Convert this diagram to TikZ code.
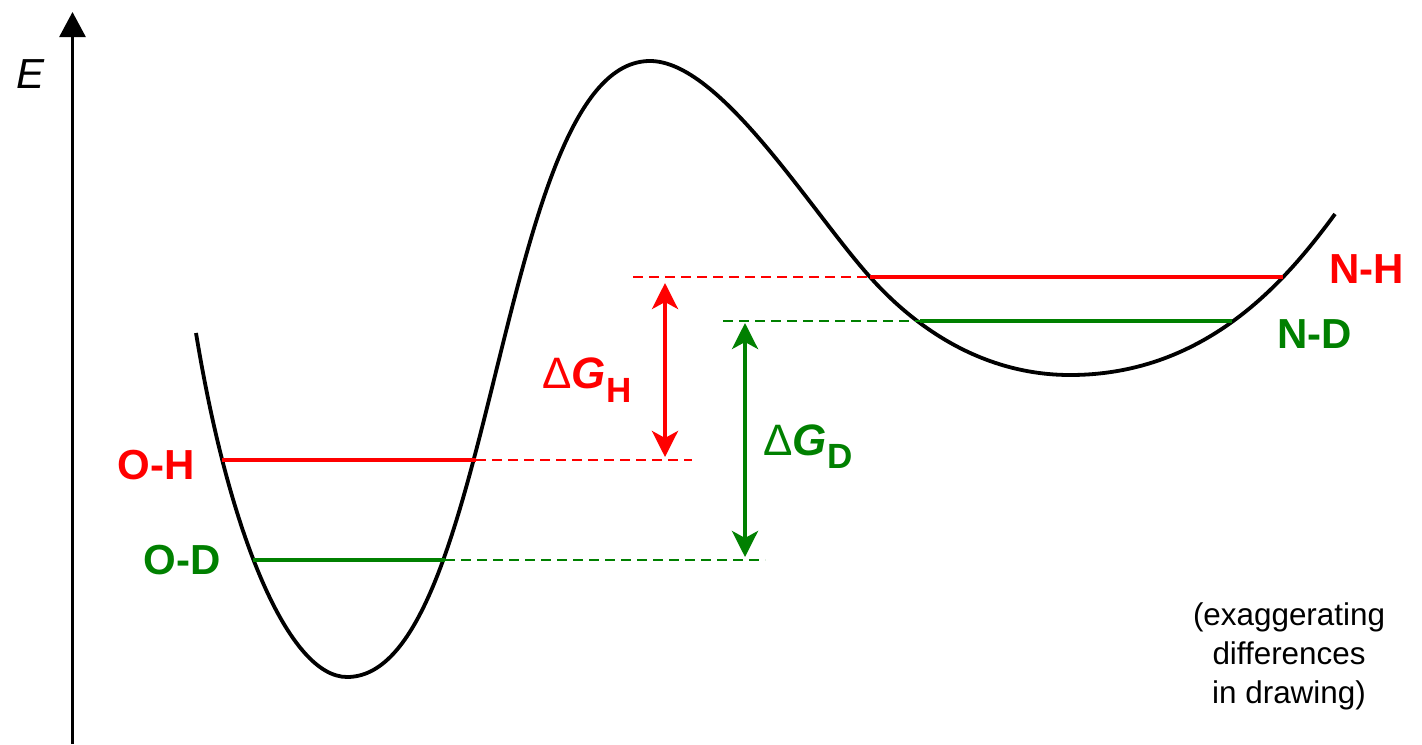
\documentclass[tikz,border=0pt]{standalone}
\usepackage{fontspec}
\setmainfont{Liberation Sans}
\usetikzlibrary{arrows.meta}
\definecolor{hred}{RGB}{255,0,0}
\definecolor{dgreen}{RGB}{0,128,0}
\begin{document}
\begin{tikzpicture}[x=0.5pt,y=-0.5pt,
  curve/.style={line width=1.9pt, black, line join=round},
  levelline/.style={line width=2.3pt},
  guide/.style={line width=0.85pt, dash pattern=on 5pt off 3pt},
  gaparrow/.style={line width=2pt,
    {Stealth[length=13pt,width=13pt,inset=3.5pt]}-{Stealth[length=13pt,width=13pt,inset=3.5pt]}},
  lbl/.style={font=\fontsize{21}{25}\selectfont\bfseries, inner sep=0pt, anchor=base west},
  dg/.style={font=\fontsize{22}{26}\selectfont, inner sep=0pt, anchor=base west},
  note/.style={font=\fontsize{15.7}{19.5}\selectfont, inner sep=0pt, anchor=base},
]
\useasboundingbox (0,0) rectangle (1422,744);

% axis
\coordinate (axB) at (72.5,744);
\coordinate (axT) at (72.5,12);
\draw[line width=1.4pt, -{Triangle[length=12.5pt,width=13pt]}] (axB) -- (axT);
\node[font=\fontsize{21}{25}\selectfont\itshape, inner sep=0pt, anchor=base west] (E) at (16,88) {E};

% energy curve
\coordinate (c0) at (196,333);
\coordinate (minL) at (347,677);
\coordinate (peak) at (650,61);
\coordinate (cross) at (870,277);
\coordinate (minR) at (1070,375);
\coordinate (cend) at (1335,214);
\draw[curve] (c0) .. controls (230,540) and (290,677) .. (minL)
  .. controls (495,677) and (497,61) .. (peak)
  .. controls (720,61) and (810,210) .. (cross)
  .. controls (930,344) and (1000,375) .. (minR)
  .. controls (1210,375) and (1290,275) .. (cend);

% level coordinates
\coordinate (ohL) at (222,460); \coordinate (ohR) at (476,460); \coordinate (ohE) at (692,460);
\coordinate (odL) at (253,560); \coordinate (odR) at (445,560); \coordinate (odE) at (765,560);
\coordinate (nhL) at (870,277); \coordinate (nhR) at (1283,277); \coordinate (nhE) at (633,277);
\coordinate (ndL) at (920,321); \coordinate (ndR) at (1232,321); \coordinate (ndE) at (723,321);

% guides
\draw[guide, hred] (ohR) -- (ohE);
\draw[guide, hred] (nhE) -- (nhL);
\draw[guide, dgreen] (odR) -- (odE);
\draw[guide, dgreen] (ndE) -- (ndL);

% levels
\draw[levelline, hred] (ohL) -- (ohR);
\draw[levelline, dgreen] (odL) -- (odR);
\draw[levelline, hred] (nhL) -- (nhR);
\draw[levelline, dgreen] (ndL) -- (ndR);

% gap arrows
\coordinate (gHt) at (665,283); \coordinate (gHb) at (665,457);
\coordinate (gDt) at (745,323); \coordinate (gDb) at (745,557);
\draw[gaparrow, hred] (gHb) -- (gHt);
\draw[gaparrow, dgreen] (gDb) -- (gDt);

% labels
\node[lbl, text=hred] (OH) at (117,479) {O-H};
\node[lbl, text=dgreen] (OD) at (143,574) {O-D};
\node[lbl, text=hred] (NH) at (1329,283) {N-H};
\node[lbl, text=dgreen] (ND) at (1277,348) {N-D};
\node[dg, text=hred] (dGH) at (542,388) {Δ\textbf{\textit{G}}\raisebox{-7pt}{\fontsize{17.5}{20}\selectfont\bfseries H}};
\node[dg, text=dgreen] (dGD) at (763,455) {Δ\textbf{\textit{G}}\raisebox{-6.5pt}{\fontsize{17.5}{20}\selectfont\bfseries D}};

% note
\node[note] (n1) at (1289,625) {(exaggerating};
\node[note] (n2) at (1289,664) {differences};
\node[note] (n3) at (1289,703) {in drawing)};
\end{tikzpicture}
\end{document}
